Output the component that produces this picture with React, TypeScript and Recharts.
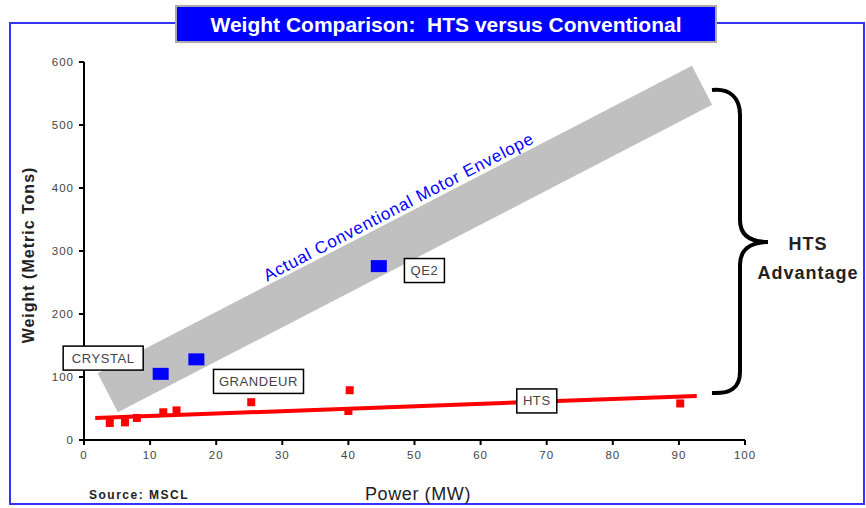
import React from "react";
import { ComposedChart, Scatter, XAxis, YAxis } from "recharts";

// conventional motors (blue)
const conventional = [
  { x: 11.6, y: 105 },
  { x: 17, y: 128 },
  { x: 44.6, y: 276 },
];

// HTS motors (red)
const hts = [
  { x: 3.9, y: 27 },
  { x: 6.2, y: 28 },
  { x: 8, y: 35 },
  { x: 12, y: 44 },
  { x: 14, y: 47 },
  { x: 25.3, y: 60 },
  { x: 40.2, y: 79 },
  { x: 40, y: 46 },
  { x: 90.2, y: 58 },
];

// envelope band centre line and HTS trend line
const envelope = [
  { x: 3.6, y: 75 },
  { x: 93.5, y: 563 },
];
const htsTrend = [
  { x: 1.7, y: 35 },
  { x: 92.7, y: 70 },
];

const callouts = [
  { x: 2.9, y: 130, text: "CRYSTAL" },
  { x: 26.4, y: 93, text: "GRANDEUR" },
  { x: 51.5, y: 269, text: "QE2" },
  { x: 68.5, y: 62, text: "HTS" },
];
const envelopeLabel = [{ x: 48, y: 362, text: "Actual Conventional Motor Envelope" }];

const xTicks = [0, 10, 20, 30, 40, 50, 60, 70, 80, 90, 100];
const yTicks = [0, 100, 200, 300, 400, 500, 600];

const FONT = "Arial, 'Liberation Sans', sans-serif";

const Nothing = () => <g />;

const BlueSquare = (p: any) => (
  <rect x={p.cx - 8} y={p.cy - 6} width={16} height={12} fill="#0000ff" />
);

const RedSquare = (p: any) => (
  <rect x={p.cx - 4} y={p.cy - 4} width={8} height={8} fill="#ff0000" />
);

const Callout = (p: any) => {
  const w = p.payload.text.length * 10 + 10;
  return (
    <g>
      <rect
        x={p.cx - w / 2}
        y={p.cy - 12}
        width={w}
        height={24}
        fill="#fff"
        stroke="#000"
        strokeWidth={1.5}
      />
      <text
        x={p.cx}
        y={p.cy + 4.5}
        textAnchor="middle"
        fontFamily={FONT}
        fontSize={13}
        letterSpacing={0.6}
        fill="#444"
      >
        {p.payload.text}
      </text>
    </g>
  );
};

const EnvelopeText = (p: any) => (
  <text
    x={p.cx}
    y={p.cy}
    textAnchor="middle"
    fontFamily={FONT}
    fontSize={17}
    letterSpacing={0.8}
    fill="#0000ff"
    transform={`rotate(-27.5 ${p.cx} ${p.cy})`}
  >
    {p.payload.text}
  </text>
);

const tickStyle = { fontFamily: FONT, fontSize: 11.5, fill: "#444", letterSpacing: 1 };

export default function App() {
  return (
    <div style={{ position: "absolute", left: 0, top: 0, width: 866, height: 508, background: "#fff" }}>
      <ComposedChart
        width={866}
        height={508}
        margin={{ top: 62, right: 121, bottom: 0, left: 0 }}
      >
        <XAxis
          type="number"
          dataKey="x"
          domain={[0, 100]}
          ticks={xTicks}
          height={68}
          stroke="#000"
          strokeWidth={2}
          tickSize={5}
          tickMargin={6}
          tick={tickStyle}
        />
        <YAxis
          type="number"
          dataKey="y"
          domain={[0, 600]}
          ticks={yTicks}
          width={84}
          stroke="#000"
          strokeWidth={2}
          tickSize={5}
          tickMargin={5}
          tick={tickStyle}
        />
        <Scatter
          data={envelope}
          line={{ stroke: "#c0c0c0", strokeWidth: 44 }}
          shape={Nothing}
          isAnimationActive={false}
        />
        <Scatter
          data={envelopeLabel}
          shape={EnvelopeText}
          isAnimationActive={false}
        />
        <Scatter
          data={htsTrend}
          line={{ stroke: "#ff0000", strokeWidth: 4 }}
          shape={Nothing}
          isAnimationActive={false}
        />
        <Scatter data={hts} shape={RedSquare} isAnimationActive={false} />
        <Scatter data={conventional} shape={BlueSquare} isAnimationActive={false} />
        <Scatter data={callouts} shape={Callout} isAnimationActive={false} />
      </ComposedChart>
      <svg
        width={866}
        height={508}
        style={{ position: "absolute", left: 0, top: 0, pointerEvents: "none" }}
      >
        <rect x={10} y={23} width={854} height={481} fill="none" stroke="#3333ff" strokeWidth={2} />
        <rect x={176} y={6} width={540} height={36} fill="#0000ff" stroke="#aaa" strokeWidth={2} />
        <text
          x={446}
          y={32}
          textAnchor="middle"
          fontFamily={FONT}
          fontWeight="bold"
          fontSize={21}
          fill="#fff"
          style={{ whiteSpace: "pre" }}
        >
          {"Weight Comparison:  HTS versus Conventional"}
        </text>
        <path
          d="M712,90 C730,88 740,98 740,115 L740,220 C740,235 750,242 768,242 C750,242 740,250 740,265 L740,372 C740,388 730,394 712,393"
          fill="none"
          stroke="#000"
          strokeWidth={4}
        />
        <text x={808} y={250} textAnchor="middle" fontFamily={FONT} fontWeight="bold" fontSize={18} letterSpacing={1} fill="#222">
          HTS
        </text>
        <text x={808} y={279} textAnchor="middle" fontFamily={FONT} fontWeight="bold" fontSize={18} letterSpacing={1} fill="#222">
          Advantage
        </text>
        <text
          x={30}
          y={255}
          textAnchor="middle"
          fontFamily={FONT}
          fontWeight="bold"
          fontSize={16}
          letterSpacing={1}
          fill="#222"
          transform="rotate(-90 30 255)"
          dominantBaseline="middle"
        >
          Weight (Metric Tons)
        </text>
        <text x={418} y={500} textAnchor="middle" fontFamily={FONT} fontSize={18} letterSpacing={0.6} fill="#222">
          Power (MW)
        </text>
        <text x={89} y={499} fontFamily={FONT} fontWeight="bold" fontSize={12} letterSpacing={1.5} fill="#222">
          Source: MSCL
        </text>
      </svg>
    </div>
  );
}
